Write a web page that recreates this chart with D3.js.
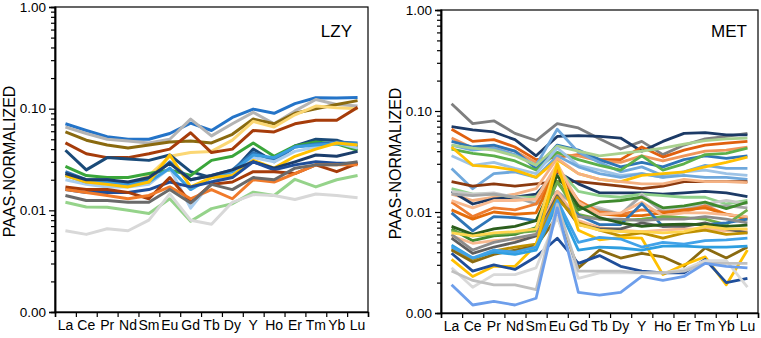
<!DOCTYPE html>
<html>
<head>
<meta charset="utf-8">
<script src="https://cdn.jsdelivr.net/npm/d3@7"></script>
<style>
body { margin: 0; background: #fff; }
text { font-family: Arial, "Liberation Sans", sans-serif; fill: #000; }
</style>
</head>
<body>
<svg id="chart" width="761" height="338"></svg>
<script>
// REE categories and y-axis decades
var elements = ['La','Ce','Pr','Nd','Sm','Eu','Gd','Tb','Dy','Y','Ho','Er','Tm','Yb','Lu'];
var majorTicks = [0.001, 0.01, 0.1, 1];

// LZY samples (PAAS-normalized), one row per sample
var lzyValues = [
	[0.071,0.061,0.053,0.050,0.050,0.057,0.072,0.061,0.082,0.099,0.090,0.112,0.128,0.127,0.129],
	[0.066,0.057,0.050,0.048,0.046,0.050,0.079,0.054,0.071,0.092,0.071,0.095,0.123,0.110,0.106],
	[0.059,0.049,0.044,0.041,0.044,0.047,0.048,0.046,0.056,0.079,0.071,0.090,0.100,0.110,0.120],
	[0.023,0.019,0.018,0.018,0.022,0.034,0.037,0.038,0.049,0.075,0.066,0.087,0.106,0.102,0.100],
	[0.046,0.036,0.033,0.033,0.036,0.040,0.058,0.037,0.040,0.061,0.059,0.071,0.077,0.077,0.103],
	[0.039,0.025,0.033,0.032,0.031,0.035,0.024,0.021,0.024,0.040,0.030,0.043,0.050,0.049,0.042],
	[0.027,0.022,0.021,0.021,0.023,0.025,0.022,0.031,0.034,0.046,0.034,0.043,0.047,0.045,0.039],
	[0.024,0.020,0.020,0.018,0.020,0.030,0.020,0.022,0.025,0.037,0.031,0.042,0.045,0.047,0.046],
	[0.020,0.018,0.017,0.017,0.018,0.026,0.0105,0.019,0.023,0.033,0.030,0.038,0.042,0.046,0.041],
	[0.022,0.019,0.019,0.018,0.019,0.026,0.016,0.021,0.024,0.035,0.033,0.042,0.044,0.045,0.045],
	[0.022,0.019,0.018,0.017,0.019,0.035,0.017,0.021,0.022,0.031,0.026,0.034,0.040,0.046,0.044],
	[0.023,0.020,0.020,0.019,0.021,0.029,0.020,0.022,0.025,0.030,0.026,0.030,0.035,0.034,0.038],
	[0.016,0.015,0.015,0.015,0.016,0.019,0.017,0.019,0.021,0.030,0.025,0.028,0.030,0.029,0.029],
	[0.017,0.016,0.016,0.015,0.013,0.021,0.012,0.018,0.019,0.024,0.024,0.023,0.028,0.024,0.029],
	[0.016,0.015,0.014,0.013,0.014,0.017,0.013,0.016,0.013,0.020,0.019,0.023,0.028,0.028,0.028],
	[0.014,0.0125,0.0125,0.012,0.012,0.016,0.0118,0.018,0.016,0.021,0.020,0.026,0.028,0.028,0.030],
	[0.012,0.0108,0.0107,0.010,0.0093,0.013,0.0078,0.0104,0.0116,0.0151,0.014,0.0202,0.017,0.020,0.022],
	[0.0063,0.0058,0.0066,0.0063,0.008,0.0145,0.008,0.0073,0.012,0.0143,0.014,0.0128,0.0145,0.014,0.0133]
];
var lzyColors = ['#2474c8','#b4b4b4','#8a6a10','#fbd774','#a63c0a','#1a4a78','#3aa63a','#2e75b6',
	'#a9cdee','#3b9de0','#ffc000','#1b3d6b','#1f4e9a','#a63c0a','#f07a2a','#6a6a6a','#95d38a','#d8d8d8'];

// MET samples (PAAS-normalized), one row per sample
var metValues = [
	[0.118,0.075,0.080,0.060,0.051,0.075,0.068,0.053,0.042,0.050,0.037,0.046,0.053,0.056,0.060],
	[0.070,0.065,0.062,0.052,0.036,0.056,0.057,0.056,0.054,0.040,0.050,0.060,0.061,0.058,0.058],
	[0.066,0.050,0.052,0.044,0.033,0.035,0.037,0.033,0.033,0.044,0.035,0.041,0.046,0.048,0.050],
	[0.054,0.043,0.045,0.040,0.031,0.037,0.036,0.032,0.031,0.036,0.032,0.036,0.040,0.041,0.044],
	[0.050,0.044,0.046,0.040,0.027,0.046,0.041,0.033,0.028,0.031,0.028,0.033,0.036,0.034,0.036],
	[0.046,0.041,0.043,0.037,0.029,0.066,0.039,0.031,0.025,0.028,0.023,0.025,0.029,0.027,0.027],
	[0.046,0.043,0.041,0.036,0.029,0.045,0.040,0.036,0.038,0.040,0.043,0.047,0.051,0.053,0.054],
	[0.042,0.038,0.036,0.032,0.026,0.039,0.033,0.029,0.026,0.036,0.026,0.030,0.037,0.038,0.043],
	[0.036,0.029,0.031,0.027,0.024,0.043,0.029,0.026,0.023,0.024,0.022,0.025,0.026,0.024,0.023],
	[0.027,0.017,0.024,0.025,0.022,0.036,0.028,0.024,0.022,0.024,0.022,0.023,0.022,0.022,0.021],
	[0.044,0.029,0.028,0.026,0.022,0.033,0.024,0.021,0.020,0.023,0.024,0.025,0.028,0.031,0.035],
	[0.020,0.018,0.019,0.018,0.019,0.020,0.020,0.019,0.018,0.017,0.018,0.020,0.020,0.020,0.020],
	[0.015,0.013,0.014,0.015,0.017,0.034,0.024,0.021,0.020,0.019,0.019,0.021,0.020,0.020,0.0195],
	[0.016,0.012,0.0135,0.014,0.015,0.025,0.019,0.0155,0.0155,0.0155,0.015,0.0155,0.016,0.0155,0.0142],
	[0.017,0.015,0.015,0.014,0.014,0.027,0.016,0.0145,0.014,0.015,0.0145,0.014,0.014,0.012,0.013],
	[0.016,0.015,0.0155,0.014,0.013,0.019,0.012,0.011,0.0095,0.015,0.0105,0.011,0.012,0.013,0.012],
	[0.015,0.0145,0.015,0.014,0.012,0.016,0.011,0.0105,0.0095,0.0145,0.010,0.0105,0.0115,0.0115,0.011],
	[0.0125,0.009,0.011,0.0105,0.012,0.026,0.013,0.010,0.0095,0.0105,0.010,0.010,0.0115,0.0095,0.0088],
	[0.0105,0.0085,0.010,0.0095,0.0098,0.028,0.012,0.0096,0.0092,0.0092,0.0098,0.0105,0.011,0.0095,0.0085],
	[0.013,0.011,0.013,0.013,0.0135,0.030,0.0125,0.0095,0.0098,0.0125,0.0092,0.0098,0.0098,0.0094,0.009],
	[0.0068,0.0052,0.0058,0.006,0.007,0.020,0.0105,0.0125,0.013,0.014,0.011,0.0115,0.0125,0.0108,0.0125],
	[0.0065,0.0058,0.006,0.0062,0.0065,0.020,0.0095,0.0085,0.0082,0.0085,0.009,0.0088,0.0085,0.0075,0.0105],
	[0.0098,0.0065,0.009,0.0088,0.0082,0.0135,0.0093,0.0075,0.0075,0.0121,0.0072,0.0075,0.0075,0.0078,0.0085],
	[0.0058,0.0049,0.0052,0.0054,0.006,0.016,0.0082,0.007,0.0066,0.0064,0.0066,0.0068,0.0068,0.0065,0.0067],
	[0.0055,0.0039,0.0045,0.005,0.0058,0.0145,0.0075,0.0068,0.0068,0.0078,0.0072,0.0072,0.0078,0.0068,0.0062],
	[0.006,0.0042,0.005,0.0055,0.006,0.013,0.009,0.0085,0.0085,0.0082,0.0085,0.0085,0.009,0.0085,0.0078],
	[0.0072,0.006,0.0068,0.0072,0.0082,0.023,0.0115,0.0088,0.0078,0.0072,0.0075,0.0076,0.0075,0.0072,0.0074],
	[0.0043,0.0034,0.0041,0.0045,0.0048,0.014,0.0078,0.0066,0.0058,0.0062,0.0055,0.0062,0.0066,0.006,0.0062],
	[0.0042,0.0032,0.0038,0.0042,0.0046,0.009,0.0028,0.0042,0.0035,0.0039,0.0036,0.0029,0.0044,0.0035,0.0045],
	[0.0062,0.0058,0.0062,0.0064,0.0068,0.031,0.0075,0.0066,0.0064,0.0064,0.0062,0.0064,0.0072,0.0068,0.0068],
	[0.0034,0.0023,0.0029,0.0029,0.0047,0.030,0.0066,0.0053,0.0056,0.0055,0.0024,0.003,0.0036,0.0019,0.0042],
	[0.0047,0.0035,0.004,0.0038,0.0042,0.012,0.0042,0.0045,0.0044,0.0042,0.0046,0.0046,0.0045,0.0045,0.0046],
	[0.0045,0.0035,0.0042,0.004,0.0045,0.013,0.005,0.0056,0.0054,0.0045,0.005,0.0048,0.0052,0.0053,0.0055],
	[0.0039,0.0026,0.003,0.0027,0.0036,0.0055,0.0031,0.0037,0.0029,0.0026,0.0025,0.0025,0.0034,0.002,0.0022],
	[0.0028,0.0018,0.0024,0.0024,0.0028,0.009,0.0022,0.0025,0.0025,0.0025,0.0025,0.0027,0.0033,0.0033,0.0018],
	[0.0026,0.0021,0.0019,0.0019,0.0017,0.012,0.0026,0.0026,0.0026,0.0025,0.0025,0.0026,0.0031,0.0031,0.0031],
	[0.0019,0.0012,0.0013,0.0012,0.0014,0.011,0.0016,0.0015,0.0016,0.0023,0.0021,0.0023,0.0031,0.0029,0.0028]
];
var metColors = ['#7f7f7f','#1c3a66','#e0600f','#f0955a','#2e75b6','#6fa8dc','#a9d18e','#5cb04a',
	'#9dc3e6','#6fa8dc','#ffc000','#8b3a0f','#f4b183','#1c3a66','#8fd18a','#c8c8c8',
	'#a6a6a6','#ed7d31','#e46c0a','#f8b98f','#3f8a2e','#70ad47','#2e75b6','#f8b98f',
	'#5f5f5f','#8c8c8c','#2b5e1d','#bf9000','#8a6a10','#ffd54f','#ffc000','#2e9ee0',
	'#41a2e8','#1f4e9a','#d9d9d9','#c0c0c0','#6d9eeb'];

var svg = d3.select('#chart');

function plot_panel(box, title, values, colors, lw, labelX, titleX) {
	var g = svg.append('g');
	var x_scale = d3.scaleBand().domain(elements).range([box.x0, box.x1]).padding(0);
	var edge_scale = d3.scaleLinear().domain([0, elements.length]).range([box.x0, box.x1]);
	var y_scale = d3.scaleLog().domain([0.001, 1]).range([box.y1, box.y0]);

	var clipId = 'clip' + title;
	g.append('clipPath').attr('id', clipId).append('rect')
		.attr('x', box.x0).attr('y', box.y0).attr('width', box.x1 - box.x0).attr('height', box.y1 - box.y0);

	// sample lines
	var line = d3.line()
		.x(function(d, i) { return x_scale(elements[i]) + x_scale.bandwidth() / 2; })
		.y(function(d) { return y_scale(d); });
	g.append('g').attr('clip-path', 'url(#' + clipId + ')')
		.selectAll('path').data(values).enter().append('path')
		.attr('d', line).attr('fill', 'none')
		.attr('stroke', function(d, i) { return colors[i]; })
		.attr('stroke-width', lw).attr('stroke-linejoin', 'round');

	// frame (top + right)
	g.append('rect').attr('x', box.x0).attr('y', box.y0)
		.attr('width', box.x1 - box.x0).attr('height', box.y1 - box.y0)
		.attr('fill', 'none').attr('stroke', '#000').attr('stroke-width', 1.2);

	// y axis: majors with labels, minors without
	var minor = [];
	[0.001, 0.01, 0.1].forEach(function(dec) {
		for (var k = 2; k <= 9; k++) minor.push(dec * k);
	});
	var yMinor = g.append('g').attr('transform', 'translate(' + box.x0 + ',0)')
		.call(d3.axisLeft(y_scale).tickValues(minor).tickSize(4).tickFormat(''));
	var yMajor = g.append('g').attr('transform', 'translate(' + box.x0 + ',0)')
		.call(d3.axisLeft(y_scale).tickValues(majorTicks).tickSize(6).tickPadding(3).tickFormat(d3.format('.2f')));
	yMajor.selectAll('text').style('font-size', '13.5px').attr('fill', '#000');
	[yMinor, yMajor].forEach(function(a) {
		a.select('.domain').attr('stroke-width', 1.5);
		a.selectAll('line').attr('stroke-width', 1.2);
	});

	// x axis: ticks on band edges, labels centred in bands
	var xTicks = g.append('g').attr('transform', 'translate(0,' + box.y1 + ')')
		.call(d3.axisBottom(edge_scale).ticks(elements.length).tickSize(5).tickFormat(''));
	xTicks.select('.domain').attr('stroke-width', 1.5);
	xTicks.selectAll('line').attr('stroke-width', 1.2);
	var xLabels = g.append('g').attr('transform', 'translate(0,' + box.y1 + ')')
		.call(d3.axisBottom(x_scale).tickSize(0).tickPadding(8));
	xLabels.select('.domain').remove();
	xLabels.selectAll('text').style('font-size', '14px').attr('fill', '#000');

	// axis title and panel label
	g.append('text').attr('transform', 'translate(' + labelX + ',' + ((box.y0 + box.y1) / 2 + 2) + ') rotate(-90)')
		.attr('text-anchor', 'middle').style('font-size', '16px').text('PAAS-NORMALIZED');
	g.append('text').attr('x', titleX).attr('y', 37).attr('text-anchor', 'end')
		.style('font-size', '17px').text(title);
}

plot_panel({x0: 55, x1: 368, y0: 7, y1: 312}, 'LZY', lzyValues, lzyColors, 3, 15, 352);
plot_panel({x0: 441, x1: 758, y0: 10, y1: 313}, 'MET', metValues, metColors, 2.8, 401, 747);
</script>
</body>
</html>
